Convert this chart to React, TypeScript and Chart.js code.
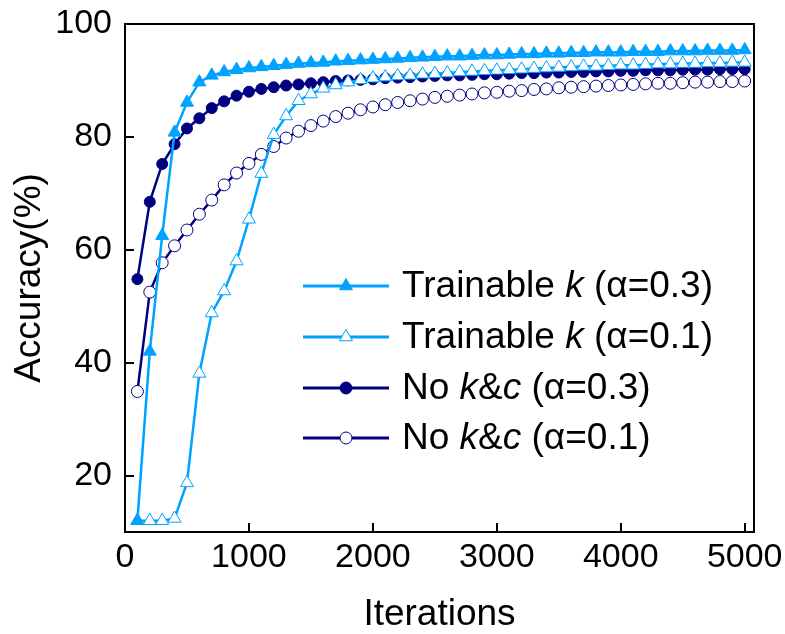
import React, { useEffect, useRef } from 'react';
import { Chart, registerables } from 'chart.js';

Chart.register(...registerables);

const iterations = [
  100, 200, 300, 400, 500, 600, 700, 800, 900, 1000,
  1100, 1200, 1300, 1400, 1500, 1600, 1700, 1800, 1900, 2000,
  2100, 2200, 2300, 2400, 2500, 2600, 2700, 2800, 2900, 3000,
  3100, 3200, 3300, 3400, 3500, 3600, 3700, 3800, 3900, 4000,
  4100, 4200, 4300, 4400, 4500, 4600, 4700, 4800, 4900, 5000,
];

const trainableA03 = [
  12.0, 42.0, 62.5, 80.8, 86.1, 89.7, 90.9, 91.5, 91.9, 92.2,
  92.4, 92.6, 92.8, 93.0, 93.1, 93.2, 93.4, 93.5, 93.6, 93.7,
  93.8, 93.9, 94.0, 94.1, 94.2, 94.3, 94.3, 94.4, 94.5, 94.5,
  94.6, 94.7, 94.7, 94.8, 94.8, 94.9, 94.9, 95.0, 95.0, 95.0,
  95.1, 95.1, 95.1, 95.2, 95.2, 95.2, 95.3, 95.3, 95.3, 95.4,
];

const trainableA01 = [
  12.0, 12.0, 12.0, 12.4, 18.7, 38.1, 48.8, 52.7, 58.0, 65.4,
  73.5, 80.4, 83.7, 86.4, 87.6, 88.6, 89.2, 89.7, 90.1, 90.4,
  90.6, 90.8, 90.9, 91.1, 91.2, 91.3, 91.5, 91.6, 91.7, 91.8,
  91.9, 92.0, 92.1, 92.2, 92.3, 92.4, 92.5, 92.5, 92.6, 92.7,
  92.7, 92.8, 92.9, 92.9, 93.0, 93.0, 93.1, 93.1, 93.2, 93.2,
];

const noKcA03 = [
  54.8, 68.5, 75.2, 78.7, 81.5, 83.3, 85.1, 86.3, 87.3, 88.0,
  88.5, 88.8, 89.1, 89.3, 89.5, 89.7, 89.9, 90.0, 90.1, 90.2,
  90.4, 90.5, 90.6, 90.7, 90.8, 90.9, 90.9, 91.0, 91.1, 91.1,
  91.2, 91.3, 91.3, 91.4, 91.4, 91.5, 91.5, 91.6, 91.6, 91.7,
  91.7, 91.8, 91.8, 91.8, 91.9, 91.9, 91.9, 92.0, 92.0, 92.0,
];

const noKcA01 = [
  34.9, 52.5, 57.7, 60.7, 63.5, 66.3, 68.8, 71.5, 73.6, 75.3,
  76.9, 78.3, 79.8, 81.0, 82.0, 82.8, 83.6, 84.2, 84.8, 85.3,
  85.7, 86.1, 86.4, 86.7, 87.0, 87.2, 87.4, 87.6, 87.8, 87.9,
  88.1, 88.2, 88.4, 88.5, 88.7, 88.8, 88.9, 89.0, 89.1, 89.2,
  89.3, 89.4, 89.5, 89.5, 89.6, 89.7, 89.7, 89.8, 89.8, 89.9,
];

const xTicks = [0, 1000, 2000, 3000, 4000, 5000];
const yTicks = [20, 40, 60, 80, 100];

const LIGHT = '#00a2ff';
const NAVY = '#000080';
const FONT = '"Liberation Sans", Arial, sans-serif';
const TICK_SIZE = 34;
const TEXT_SIZE = 37;

type Seg = { t: string; i?: boolean };
const legendItems: { color: string; style: string; filled: boolean; text: Seg[] }[] = [
  { color: LIGHT, style: 'triangle', filled: true, text: [{ t: 'Trainable ' }, { t: 'k', i: true }, { t: ' (α=0.3)' }] },
  { color: LIGHT, style: 'triangle', filled: false, text: [{ t: 'Trainable ' }, { t: 'k', i: true }, { t: ' (α=0.1)' }] },
  { color: NAVY, style: 'circle', filled: true, text: [{ t: 'No ' }, { t: 'k', i: true }, { t: '&' }, { t: 'c', i: true }, { t: ' (α=0.3)' }] },
  { color: NAVY, style: 'circle', filled: false, text: [{ t: 'No ' }, { t: 'k', i: true }, { t: '&' }, { t: 'c', i: true }, { t: ' (α=0.1)' }] },
];

function drawMarker(ctx: CanvasRenderingContext2D, style: string, x: number, y: number, r: number, color: string, filled: boolean) {
  ctx.beginPath();
  if (style === 'triangle') {
    for (let k = 0; k < 3; k++) {
      const a = (k * 2 * Math.PI) / 3;
      const px = x + Math.sin(a) * r;
      const py = y - Math.cos(a) * r;
      if (k === 0) ctx.moveTo(px, py);
      else ctx.lineTo(px, py);
    }
    ctx.closePath();
  } else {
    ctx.arc(x, y, r, 0, Math.PI * 2);
  }
  ctx.fillStyle = filled ? color : '#ffffff';
  ctx.fill();
  ctx.lineWidth = 1;
  ctx.strokeStyle = color;
  ctx.stroke();
}

const framePlugin = {
  id: 'framePlugin',
  afterDraw(chart: any) {
    const { ctx, chartArea } = chart;
    const { left, right, top, bottom } = chartArea;
    const xs = chart.scales.x;
    const ys = chart.scales.y;
    ctx.save();
    ctx.strokeStyle = '#000';
    ctx.lineWidth = 2;
    ctx.strokeRect(left, top, right - left, bottom - top);
    ctx.beginPath();
    xTicks.forEach((v) => {
      const px = Math.round(xs.getPixelForValue(v));
      ctx.moveTo(px, bottom);
      ctx.lineTo(px, bottom - 9);
    });
    yTicks.forEach((v) => {
      const py = Math.round(ys.getPixelForValue(v));
      ctx.moveTo(left, py);
      ctx.lineTo(left + 9, py);
    });
    ctx.stroke();

    // legend
    const rowsY = [286, 337, 388, 438];
    legendItems.forEach((item, idx) => {
      const y = rowsY[idx];
      ctx.beginPath();
      ctx.strokeStyle = item.color;
      ctx.lineWidth = 3;
      ctx.moveTo(303, y);
      ctx.lineTo(389, y);
      ctx.stroke();
      drawMarker(ctx, item.style, 346, y, item.style === 'triangle' ? 7.5 : 6, item.color, item.filled);
      let x = 402;
      ctx.fillStyle = '#000';
      ctx.textBaseline = 'middle';
      ctx.textAlign = 'left';
      item.text.forEach((s) => {
        ctx.font = `${s.i ? 'italic ' : ''}${TEXT_SIZE}px ${FONT}`;
        ctx.fillText(s.t, x, y + 1);
        x += ctx.measureText(s.t).width;
      });
    });
    ctx.restore();
  },
};

export default function App() {
  const ref = useRef<HTMLCanvasElement | null>(null);

  useEffect(() => {
    if (!ref.current) return;
    const mk = (arr: number[]) => iterations.map((x, i) => ({ x, y: arr[i] }));
    const chart = new Chart(ref.current, {
      type: 'line',
      data: {
        datasets: [
          {
            label: 'Trainable k (α=0.3)',
            data: mk(trainableA03),
            borderColor: LIGHT,
            backgroundColor: LIGHT,
            borderWidth: 2.5,
            pointStyle: 'triangle',
            pointRadius: 7.5,
            pointBorderWidth: 1,
            pointBackgroundColor: LIGHT,
            pointBorderColor: LIGHT,
          },
          {
            label: 'Trainable k (α=0.1)',
            data: mk(trainableA01),
            borderColor: LIGHT,
            backgroundColor: '#ffffff',
            borderWidth: 2.5,
            pointStyle: 'triangle',
            pointRadius: 7.5,
            pointBorderWidth: 1,
            pointBackgroundColor: '#ffffff',
            pointBorderColor: LIGHT,
          },
          {
            label: 'No k&c (α=0.3)',
            data: mk(noKcA03),
            borderColor: NAVY,
            backgroundColor: NAVY,
            borderWidth: 2.5,
            pointStyle: 'circle',
            pointRadius: 5.5,
            pointBorderWidth: 1,
            pointBackgroundColor: NAVY,
            pointBorderColor: NAVY,
          },
          {
            label: 'No k&c (α=0.1)',
            data: mk(noKcA01),
            borderColor: NAVY,
            backgroundColor: '#ffffff',
            borderWidth: 2.5,
            pointStyle: 'circle',
            pointRadius: 6,
            pointBorderWidth: 1,
            pointBackgroundColor: '#ffffff',
            pointBorderColor: NAVY,
          },
        ],
      },
      options: {
        animation: false,
        responsive: false,
        maintainAspectRatio: false,
        layout: { padding: { left: 0, right: 31, top: 24, bottom: 0 } },
        plugins: {
          legend: { display: false },
          tooltip: { enabled: false },
        },
        scales: {
          x: {
            type: 'linear',
            min: 0,
            max: 5075,
            grid: { display: false, drawTicks: false },
            border: { display: false },
            afterBuildTicks: (s: any) => {
              s.ticks = xTicks.map((v) => ({ value: v }));
            },
            afterFit: (s: any) => {
              s.height = 102;
              s.paddingLeft = 0;
              s.paddingRight = 0;
            },
            ticks: {
              autoSkip: false,
              maxRotation: 0,
              padding: 5,
              color: '#000',
              font: { family: FONT, size: TICK_SIZE },
              callback: (v: any) => String(v),
            },
            title: {
              display: true,
              text: 'Iterations',
              color: '#000',
              font: { family: FONT, size: TEXT_SIZE, lineHeight: 1 },
              padding: { top: 0, bottom: 1 },
            },
          },
          y: {
            type: 'linear',
            min: 10,
            max: 100,
            grid: { display: false, drawTicks: false },
            border: { display: false },
            afterBuildTicks: (s: any) => {
              s.ticks = yTicks.map((v) => ({ value: v }));
            },
            afterFit: (s: any) => {
              s.width = 125;
              s.paddingTop = 0;
              s.paddingBottom = 0;
            },
            ticks: {
              autoSkip: false,
              padding: 13,
              color: '#000',
              font: { family: FONT, size: TICK_SIZE },
              callback: (v: any) => String(v),
            },
            title: {
              display: true,
              text: 'Accuracy(%)',
              color: '#000',
              font: { family: FONT, size: TEXT_SIZE, lineHeight: 1 },
              padding: { top: 11, bottom: 0 },
            },
          },
        },
      },
      plugins: [framePlugin],
    });
    return () => chart.destroy();
  }, []);

  return (
    <div style={{ position: 'fixed', left: 0, top: 0, width: 785, height: 634, background: '#fff' }}>
      <canvas ref={ref} width={785} height={634} style={{ width: 785, height: 634, display: 'block' }} />
    </div>
  );
}
